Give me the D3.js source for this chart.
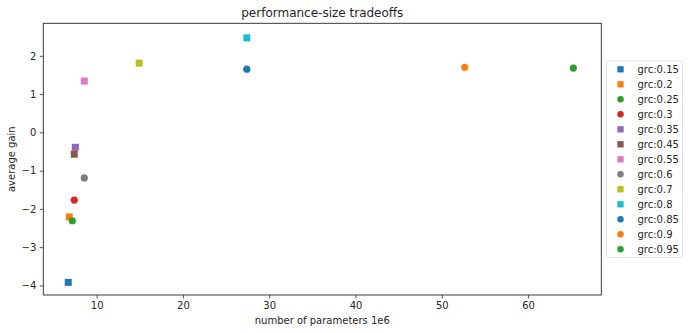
<!DOCTYPE html>
<html lang="en">
<head>
<meta charset="UTF-8">
<title>performance-size tradeoffs</title>
<script src="https://d3js.org/d3.v7.min.js"></script>
<style>
    body { margin: 0; background: #fff; }
    svg text { font-family: "DejaVu Sans", sans-serif; fill: #262626; }
</style>
</head>
<body>
<script>
    // data
    var labels = ["grc:0.15", "grc:0.2", "grc:0.25", "grc:0.3", "grc:0.35", "grc:0.45", "grc:0.55",
                  "grc:0.6", "grc:0.7", "grc:0.8", "grc:0.85", "grc:0.9", "grc:0.95"];
    var params = [6.71, 6.83, 7.18, 7.41, 7.53, 7.41, 8.57, 8.57, 14.93, 27.4, 27.4, 52.66, 65.24];
    var gains = [-3.92, -2.21, -2.31, -1.77, -0.39, -0.57, 1.34, -1.19, 1.81, 2.47, 1.65, 1.70, 1.68];
    var shapes = ["s", "s", "o", "o", "s", "s", "s", "o", "s", "s", "o", "o", "o"];
    var xTicks = [10, 20, 30, 40, 50, 60];
    var yTicks = [-4, -3, -2, -1, 0, 1, 2];

    var colors = ["#1f77b4", "#ff7f0e", "#2ca02c", "#d62728", "#9467bd", "#8c564b", "#e377c2",
                  "#7f7f7f", "#bcbd22", "#17becf"];

    var W = 690, H = 333;
    var margin = {top: 23.3, right: 88.7, bottom: 38, left: 43.3},
        width = W - margin.left - margin.right,
        height = H - margin.top - margin.bottom;

    var svg = d3.select("body").append("svg")
        .attr("width", W)
        .attr("height", H);

    var g = svg.append("g")
        .attr("transform", "translate(" + margin.left + "," + margin.top + ")");

    var x = d3.scaleLinear().domain([3.82, 68.48]).range([0, width]);
    var y = d3.scaleLinear().domain([-4.25, 2.85]).range([height, 0]);

    var pts = labels.map(function (l, i) {
        return {label: l, x: params[i], y: gains[i], shape: shapes[i], color: colors[i % colors.length]};
    });

    function drawMarker(sel, d, size) {
        if (d.shape === "s") {
            sel.append("rect")
                .attr("x", -size / 2).attr("y", -size / 2)
                .attr("width", size).attr("height", size)
                .style("fill", d.color);
        } else {
            sel.append("circle")
                .attr("r", size / 2 + 0.1)
                .style("fill", d.color);
        }
    }

    g.selectAll(".pt")
        .data(pts)
        .enter().append("g")
        .attr("class", "pt")
        .attr("transform", function (d) { return "translate(" + x(d.x) + "," + y(d.y) + ")"; })
        .each(function (d) { drawMarker(d3.select(this), d, 7); });

    // axes
    var xAxis = g.append("g")
        .attr("transform", "translate(0," + height + ")")
        .call(d3.axisBottom(x).tickValues(xTicks).tickSize(3.5).tickPadding(3.5));
    var yAxis = g.append("g")
        .call(d3.axisLeft(y).tickValues(yTicks).tickSize(3.5).tickPadding(3.5)
            .tickFormat(function (d) { return d < 0 ? "\u2212" + Math.abs(d) : d; }));
    [xAxis, yAxis].forEach(function (a) {
        a.select(".domain").remove();
        a.selectAll("line").style("stroke", "#262626").style("stroke-width", 0.8);
        a.selectAll("text").style("font-size", "10px").style("font-family", "DejaVu Sans, sans-serif").attr("fill", "#262626");
    });

    // frame
    g.append("rect")
        .attr("width", width).attr("height", height)
        .style("fill", "none").style("stroke", "#262626").style("stroke-width", 0.9);

    // titles
    svg.append("text")
        .attr("x", margin.left + width / 2).attr("y", 17)
        .attr("text-anchor", "middle")
        .style("font-size", "12px")
        .text("performance-size tradeoffs");

    svg.append("text")
        .attr("x", margin.left + width / 2).attr("y", 324)
        .attr("text-anchor", "middle")
        .style("font-size", "10px")
        .text("number of parameters 1e6");

    svg.append("text")
        .attr("transform", "translate(15," + (margin.top + height / 2) + ") rotate(-90)")
        .attr("text-anchor", "middle")
        .style("font-size", "10px")
        .text("average gain");

    // legend
    var leg = svg.append("g").attr("transform", "translate(606.5,61)");
    leg.append("rect")
        .attr("width", 76).attr("height", 196.5)
        .attr("rx", 2)
        .style("fill", "#fff").style("stroke", "#d9d9d9").style("stroke-width", 0.8);

    var rows = leg.selectAll(".row")
        .data(pts)
        .enter().append("g")
        .attr("class", "row")
        .attr("transform", function (d, i) { return "translate(0," + (8.3 + i * 15) + ")"; });
    rows.append("g")
        .attr("transform", "translate(14,0)")
        .each(function (d) { drawMarker(d3.select(this), d, 6.3); });
    rows.append("text")
        .attr("x", 31).attr("y", 3.6)
        .style("font-size", "10px")
        .text(function (d) { return d.label; });
</script>
</body>
</html>
